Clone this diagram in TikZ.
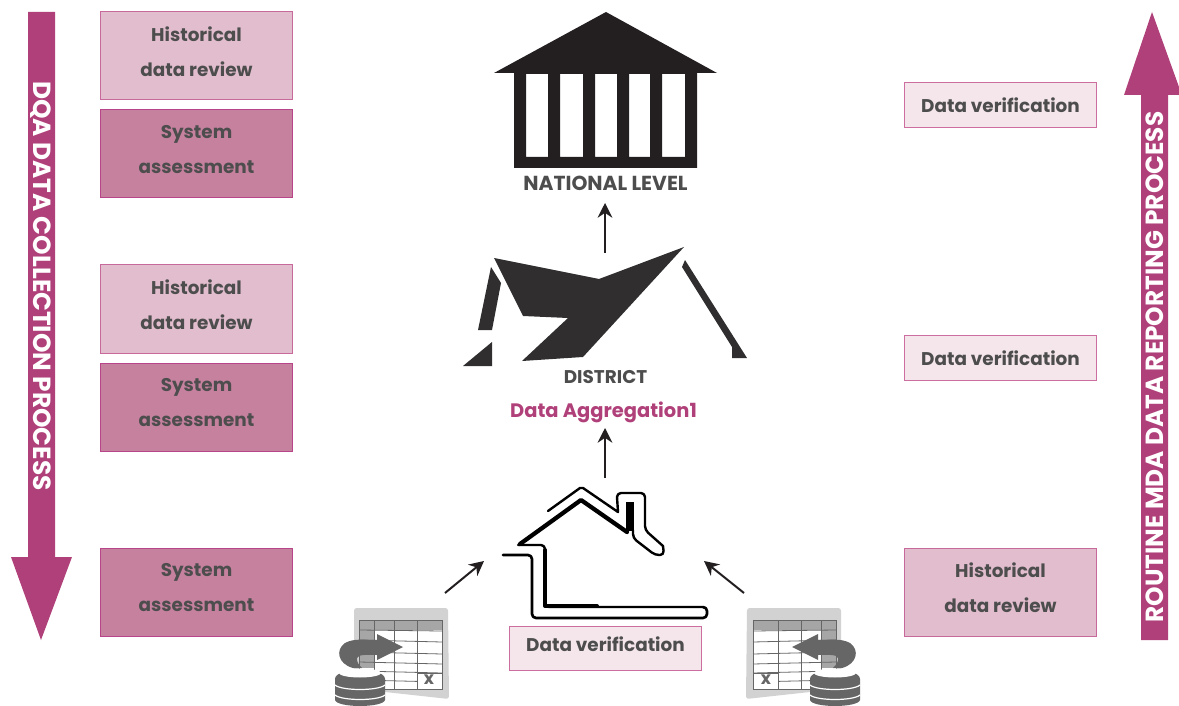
\documentclass[tikz,border=0pt]{standalone}
\usepackage{fontspec}
\setmainfont{Poppins}
\usepackage{xcolor}
\usetikzlibrary{arrows.meta, positioning}
\definecolor{plum}{HTML}{B04079}
\definecolor{inktext}{HTML}{4D4D4D}
\definecolor{inkdark}{HTML}{231F20}
\definecolor{inkroof}{HTML}{302E2F}
\definecolor{histfill}{HTML}{E2BDCE}
\definecolor{histline}{HTML}{C76A9B}
\definecolor{sysfill}{HTML}{C6819F}
\definecolor{sysline}{HTML}{B8458A}
\definecolor{verfill}{HTML}{F5E6EC}
\definecolor{verline}{HTML}{CC6FA0}
\definecolor{iconlight}{HTML}{D2D2D2}
\definecolor{iconmid}{HTML}{A6A6A6}
\definecolor{icondark}{HTML}{666666}
\newcommand{\lift}[1]{\rule[-#1]{0pt}{#1}} % more room under the last line
\tikzset{
x=0.75pt, y=-0.75pt,
>={Stealth[length=11pt,width=11pt]}, % heads of the small arrows
node distance=7.5pt, % gap between the stacked boxes
label text/.style={text=inktext, font=\bfseries\fontsize{13.8}{26.25}\selectfont, align=center},
box/.style={label text, draw, line width=0.75pt, minimum width=144pt, outer sep=0pt, inner sep=0pt},
histbox/.style={box, fill=histfill, draw=histline, minimum height=66pt},
sysbox/.style={box, fill=sysfill, draw=sysline, minimum height=66pt},
verbox/.style={box, fill=verfill, draw=verline, minimum height=33.5pt},
flow/.style={->, draw=inkdark, line width=1.5pt},
long arrow text/.style={text=white, font=\bfseries\fontsize{18.6}{20}\selectfont},
house line/.style={draw=black, line join=round, line cap=round},
grid line/.style={draw=icondark, line width=0.6pt},
sheet icon/.pic={
  \fill[iconlight, rounded corners=2pt] (354,608) -- (448,608) -- (449,699) -- (385,692) -- (354,694) -- cycle;
  \fill[white] (359,620) rectangle (442,689);
  \fill[iconmid] (359,620) rectangle (442,630);
  \fill[iconmid] (359,630) rectangle (374,668);
  \draw[grid line] (359,620) rectangle (442,689);
  \foreach \xgrid in {374,394,417} {\draw[grid line] (\xgrid,620) -- (\xgrid,689);}
  \foreach \ygrid/\yend in {630/631,640/642,652/654,662/664,671/673,680/682} {\draw[grid line] (359,\ygrid) -- (442,\yend);}
  \fill[white] (417,673) rectangle (442,689);
  \draw[grid line] (417,673) rectangle (442,689);
  \node[text=icondark, font=\bfseries\fontsize{13}{13}\selectfont, inner sep=0pt] at (429,680) {x};
  % arrow from the drum into the sheet
  \fill[icondark] (353,668) .. controls (338,664) and (335,650) .. (345,643)
    .. controls (354,638) and (366,640) .. (377,640) -- (377,634) -- (403,647) -- (377,660)
    -- (377,655) .. controls (368,655) and (358,654) .. (357,658) .. controls (357,662) and (358,664) .. (362,668) -- cycle;
  % drum
  \fill[icondark] (335,679) -- (335,700) .. controls (337,708) and (383,708) .. (385,700) -- (385,679)
    .. controls (385,667) and (335,667) .. (335,679) -- cycle;
  \fill[white] (360,673) ellipse (21 and 4.5);
  \draw[white, line width=0.9pt] (335,685) .. controls (342,691) and (378,691) .. (385,685);
  \draw[white, line width=0.9pt] (335,695) .. controls (342,701) and (378,701) .. (385,695);
},
}
\begin{document}
\begin{tikzpicture}
    \useasboundingbox (0,0) rectangle (1179,706);

    % long arrows at both sides
    \fill[plum] (28,12) -- (55,12) -- (55,557) -- (72,557) -- (41,640) -- (11,557) -- (28,557) -- cycle;
    \fill[plum] (1141,640) -- (1168,640) -- (1168,95) -- (1179,95) -- (1179,87) -- (1152,12) -- (1124,95) -- (1141,95) -- cycle;
    \node[long arrow text, rotate=-90] (dqa) at (41,286) {DQA DATA COLLECTION PROCESS};
    \node[long arrow text, rotate=90] (mda) at (1155,367) {ROUTINE MDA DATA REPORTING PROCESS};

    % boxes on the left
    \node[histbox] (hist1) at (196.5,56) {Historical\\data review\lift{7pt}};
    \node[sysbox, below=of hist1] (sys1) {System\\assessment\lift{7pt}};
    \node[histbox] (hist2) at (196.5,309) {Historical\\data review\lift{7pt}};
    \node[sysbox, below=of hist2] (sys2) {System\\assessment\lift{7pt}};
    \node[sysbox] (sys3) at (196.5,592) {System\\assessment\lift{7pt}};

    % boxes on the right
    \node[verbox] (ver1) at (1000.5,105) {Data verification};
    \node[verbox] (ver2) at (1000.5,358) {Data verification};
    \node[histbox] (hist3) at (1000.5,592) {Historical\\data review\lift{7pt}};
    \node[verbox] (ver3) at (605.5,648.5) {Data verification\lift{7pt}};

    % national building
    \fill[inkdark] (606,12) -- (717,73) -- (494,73) -- cycle;
    \fill[inkdark, even odd rule] (514,73) rectangle (697,168)
        (526,74) rectangle (548,157) (560,74) rectangle (583,157) (595,74) rectangle (617,157)
        (629,74) rectangle (650,157) (662,74) rectangle (685,157);
    \node[label text, font=\bfseries\fontsize{15.2}{18}\selectfont] (national) at (605.5,183) {NATIONAL LEVEL};

    % district building
    \fill[inkroof] (494,258) -- (599,279) -- (684,247) -- (583,357) -- (522,361) -- (568,318) -- (523,316) -- cycle;
    \fill[inkroof] (491,267) -- (501,283) -- (492,330) -- (478,330) -- cycle;
    \fill[inkroof] (492,342) -- (492,366) -- (463,366) -- cycle;
    \fill[inkroof] (685,260) -- (747,358) -- (732,358) -- (732,347) -- (682,267) -- cycle;
    \node[label text] (district) at (605.5,377) {DISTRICT};
    \node[label text, text=plum, font=\bfseries\fontsize{14.6}{18}\selectfont] (aggregation) at (603.5,412) {Data Aggregation1};

    % small house
    \draw[house line, line width=1.8pt] (548,511) -- (580,488) -- (583,488) -- (618,512) -- (617,497)
        [rounded corners=3pt] -- (617,493) -- (645,493) -- (645,530) [sharp corners] -- (663,546)
        [rounded corners=3pt] -- (664,555) -- (655,555) -- (633,538) [sharp corners] -- (633,530);
    \fill[black] (626,502) rectangle (634,531);
    \draw[house line, line width=3.2pt] (520,544) -- (581,500) -- (627,532);
    \draw[house line, line width=1.8pt, rounded corners=3pt] (518,545) -- (545,545) -- (545,607) -- (703,607);
    \draw[house line, line width=3pt] (545,550) -- (545,606) -- (597,606);
    \draw[house line, line width=2pt, rounded corners=3pt] (703,607) -- (707,607) -- (707,618) -- (532,618) -- (532,555) -- (503,555);

    % sheets with drums
    \pic at (0,0) {sheet icon};
    \pic[xscale=-1] at (1195,0) {sheet icon};

    % small arrows
    \coordinate (natfoot) at (605,203);
    \coordinate (disthead) at (605,253);
    \coordinate (aggfoot) at (605,428);
    \coordinate (househead) at (605,478);
    \coordinate (sheetleft) at (445,593);
    \coordinate (doorleft) at (484,561);
    \coordinate (sheetright) at (744,593);
    \coordinate (doorright) at (704,561);
    \draw[flow] (disthead) -- (natfoot);
    \draw[flow] (househead) -- (aggfoot);
    \draw[flow] (sheetleft) -- (doorleft);
    \draw[flow] (sheetright) -- (doorright);
\end{tikzpicture}
\end{document}
